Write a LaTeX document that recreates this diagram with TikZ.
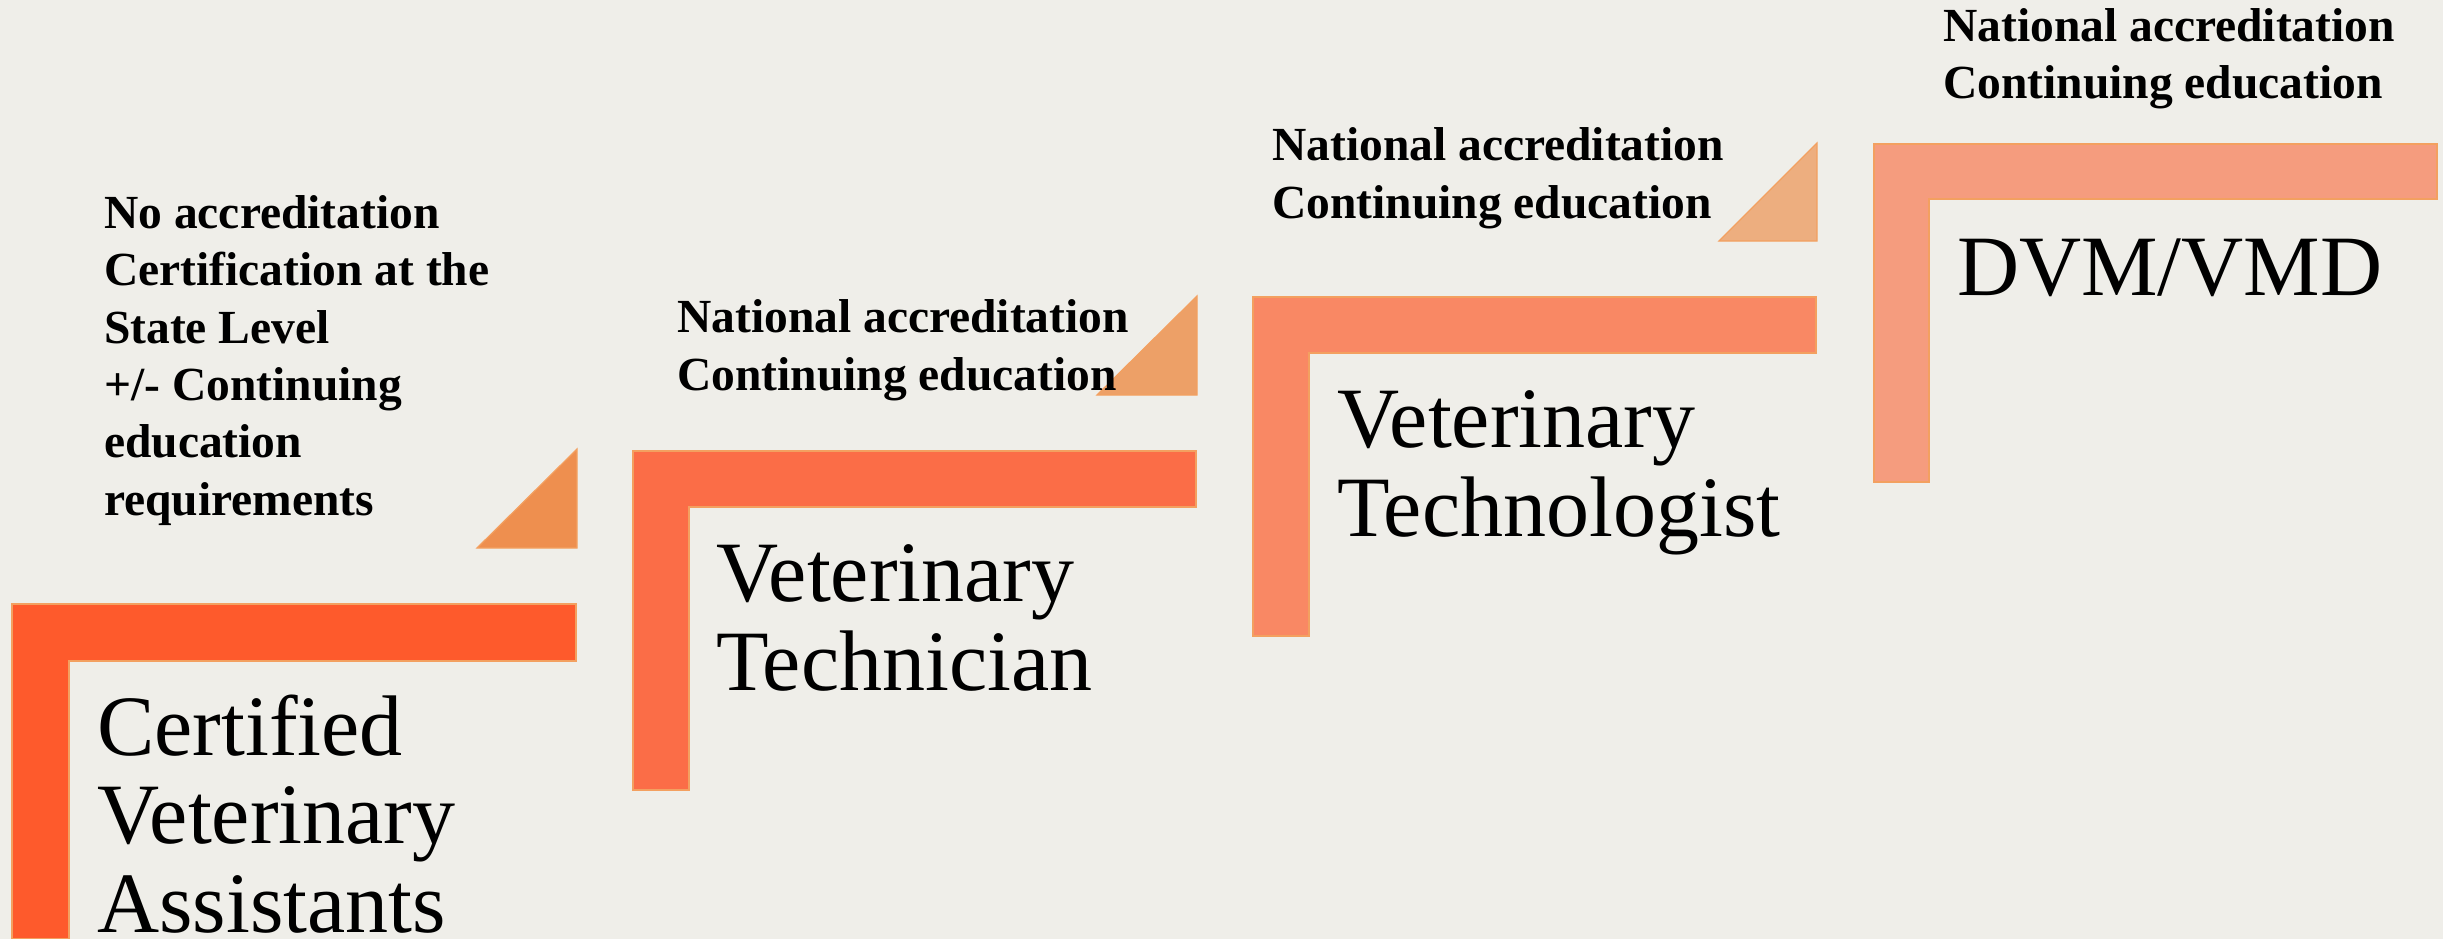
\documentclass[tikz,border=0pt]{standalone}
\usepackage{fontspec}
\setmainfont{Liberation Serif}
\definecolor{bgc}{HTML}{EFEEE9}
\definecolor{sone}{HTML}{FE5A2C}
\definecolor{stwo}{HTML}{FB6D47}
\definecolor{sthree}{HTML}{F98864}
\definecolor{sfour}{HTML}{F59C7E}
\definecolor{tone}{HTML}{EE8F4F}
\definecolor{ttwo}{HTML}{EDA067}
\definecolor{tthree}{HTML}{EDAE7F}
\definecolor{edgec}{HTML}{F3A060}
\begin{document}
\begin{tikzpicture}[x=1pt,y=-1pt,
  stepshape/.style={draw=edgec, line width=1.2pt, line join=miter},
  smalltxt/.style={anchor=base west, inner sep=0pt, align=left, font=\fontsize{47.5}{57.3}\selectfont\bfseries},
  bigtxt/.style={anchor=base west, inner sep=0pt, align=left, font=\fontsize{86}{88.3}\selectfont}]
\fill[bgc] (0,0) rectangle (2443,939);
\useasboundingbox (0,0) rectangle (2443,939);
% step shapes
\fill[sone, stepshape] (12,604) -- (576,604) -- (576,661) -- (69,661) -- (69,939) -- (12,939) -- cycle;
\fill[stwo, stepshape] (633,451) -- (1196,451) -- (1196,507) -- (689,507) -- (689,790) -- (633,790) -- cycle;
\fill[sthree, stepshape] (1253,297) -- (1816,297) -- (1816,353) -- (1309,353) -- (1309,636) -- (1253,636) -- cycle;
\fill[sfour, stepshape] (1874,144) -- (2437,144) -- (2437,199) -- (1929,199) -- (1929,482) -- (1874,482) -- cycle;
% triangles
\fill[tone, stepshape] (477,548) -- (577,548) -- (577,449) -- cycle;
\fill[ttwo, stepshape] (1097,395) -- (1197,395) -- (1197,296) -- cycle;
\fill[tthree, stepshape] (1719,241) -- (1817,241) -- (1817,143) -- cycle;
% texts (anchored at the baseline of the last line)
\node[smalltxt] (req1) at (104,515) {No accreditation\\Certification at the\\State Level\\+/- Continuing\\education\\requirements};
\node[smalltxt] (req2) at (677,390) {National accreditation\\Continuing education};
\node[smalltxt] (req3) at (1272,218) {National accreditation\\Continuing education};
\node[smalltxt] (req4) at (1943,99) {National accreditation\\Continuing education};
\node[bigtxt] (role1) at (97,932) {Certified\\Veterinary\\Assistants};
\node[bigtxt] (role2) at (716,690) {Veterinary\\Technician};
\node[bigtxt] (role3) at (1337,536) {Veterinary\\Technologist};
\node[bigtxt] (role4) at (1957,295) {DVM/VMD};
\end{tikzpicture}
\end{document}
